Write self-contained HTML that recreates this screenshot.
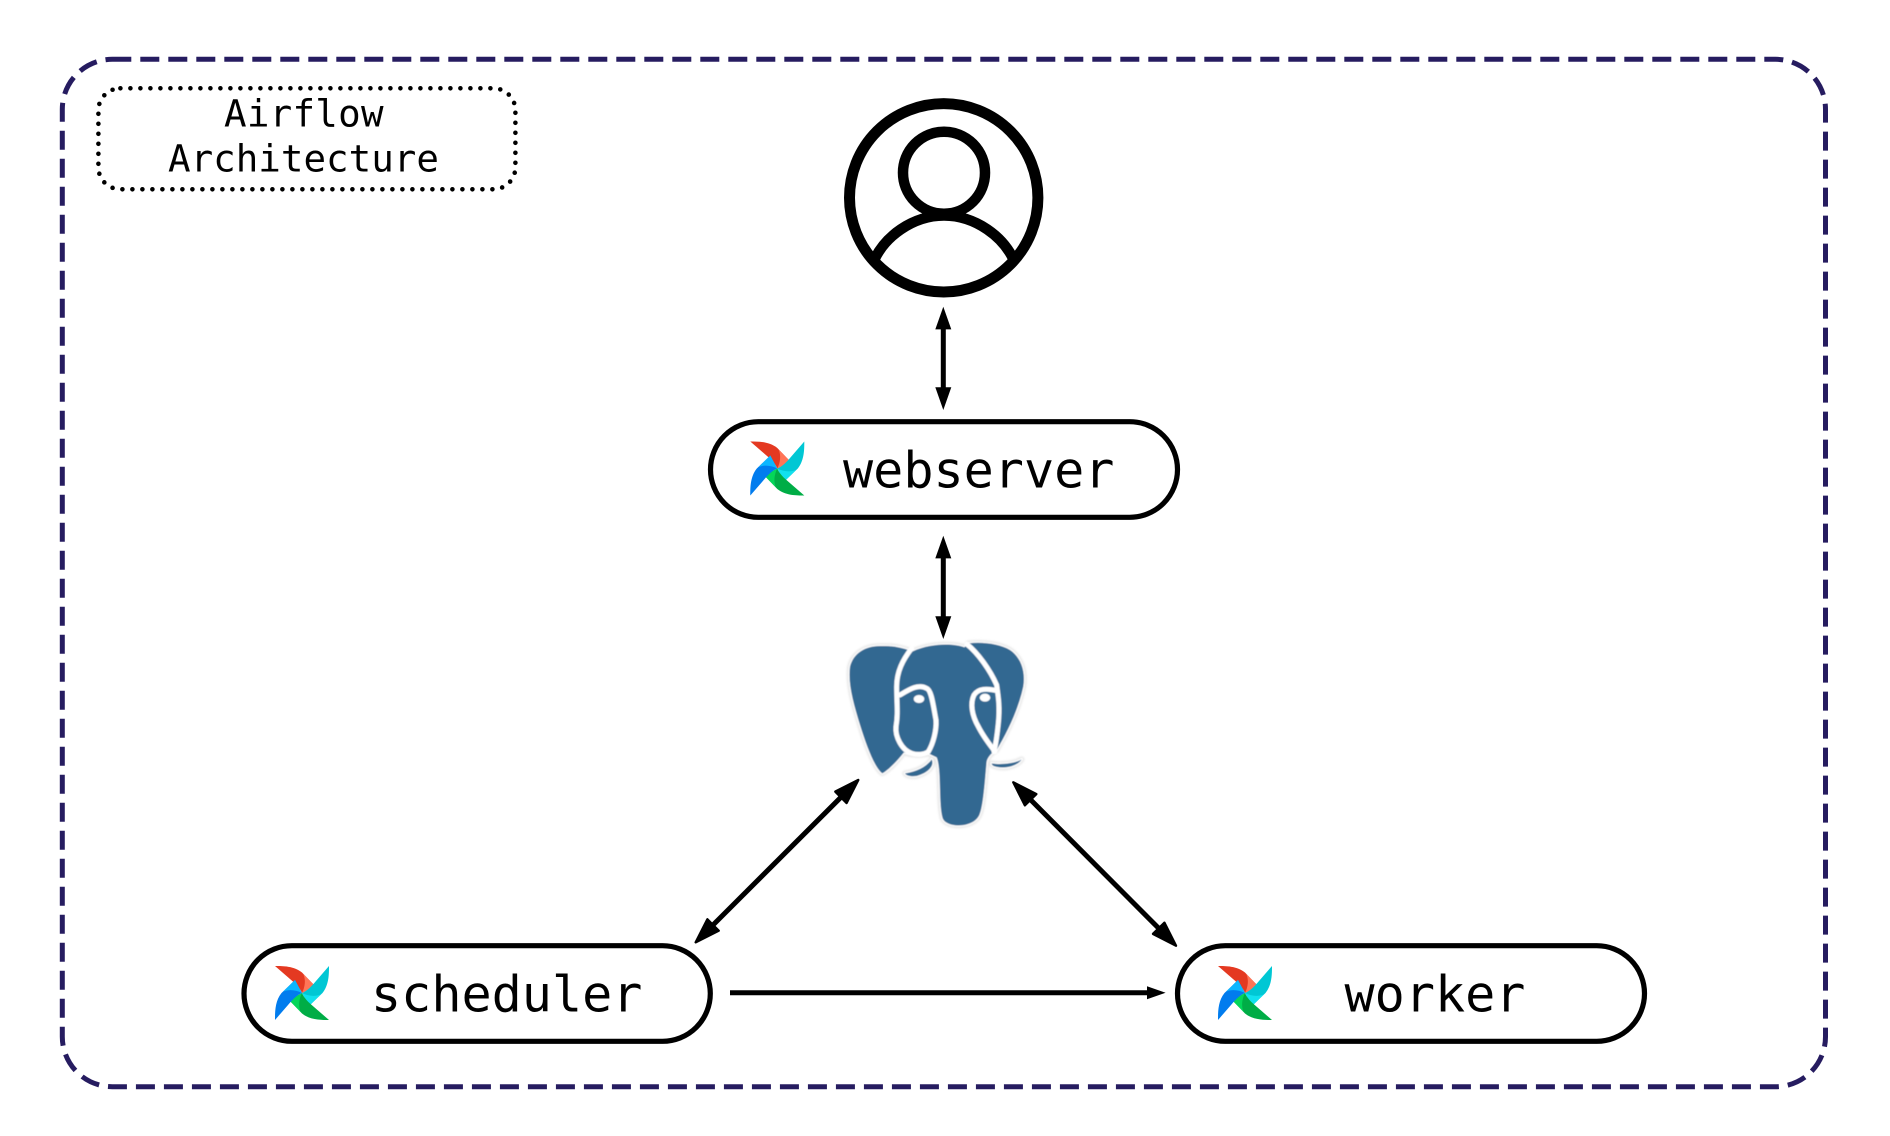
<!DOCTYPE html>
<html>
<head>
<meta charset="utf-8">
<title>Airflow Architecture</title>
<style>
html,body{margin:0;padding:0;background:#fff;width:1890px;height:1136px;overflow:hidden}
svg{display:block}
text{font-family:"DejaVu Sans Mono","Liberation Mono",monospace;fill:#000}
</style>
</head>
<body>
<svg xmlns="http://www.w3.org/2000/svg" width="1890" height="1136" viewBox="0 0 1890 1136">
<defs>
<clipPath id="ring"><circle cx="943.7" cy="197.8" r="94"/></clipPath>
<g id="pin">
  <path fill="#e43921" d="M-27 -27C-19 -27 -8 -27 0 -20.5L13 -7L0 0C-2 -5 -6 -9 -12 -14Z"/>
  <path fill="#ff7557" d="M1.3 -19L13 -7L0 0C3 -6 4 -13 1.3 -19Z"/>
  <g transform="rotate(90)">
    <path fill="#00c7d4" d="M-27 -27C-19 -27 -8 -27 0 -20.5L13 -7L0 0C-2 -5 -6 -9 -12 -14Z"/>
    <path fill="#11e1ee" d="M1.3 -19L13 -7L0 0C3 -6 4 -13 1.3 -19Z"/>
  </g>
  <g transform="rotate(180)">
    <path fill="#00ad46" d="M-27 -27C-19 -27 -8 -27 0 -20.5L13 -7L0 0C-2 -5 -6 -9 -12 -14Z"/>
    <path fill="#04d659" d="M1.3 -19L13 -7L0 0C3 -6 4 -13 1.3 -19Z"/>
  </g>
  <g transform="rotate(270)">
    <path fill="#017cee" d="M-27 -27C-19 -27 -8 -27 0 -20.5L13 -7L0 0C-2 -5 -6 -9 -12 -14Z"/>
    <path fill="#0cb6ff" d="M1.3 -19L13 -7L0 0C3 -6 4 -13 1.3 -19Z"/>
  </g>
</g>
<filter id="soft" x="-10%" y="-10%" width="120%" height="120%"><feGaussianBlur stdDeviation="3"/></filter>
<filter id="fine" x="-5%" y="-5%" width="110%" height="110%"><feGaussianBlur stdDeviation="1.2"/></filter>
<g id="sil">
  <path d="M480 378C435 378 400 400 390 440C383 490 400 550 420 615C440 680 465 745 487 760C505 750 530 725 552 697C570 705 610 708 625 700L650 712C665 750 655 850 668 895C680 925 760 925 778 885C790 860 795 780 800 725C803 712 812 700 830 690C860 640 895 570 910 500C918 450 900 410 870 390C840 372 790 365 745 370L733 382C710 372 640 366 578 394L565 390C530 378 510 378 480 378Z"/>
  <path d="M555 760C590 755 620 740 635 718C645 740 620 760 590 768C575 770 560 768 555 760Z"/>
  <path d="M815 730C845 735 885 730 905 718C895 735 865 745 840 742C825 740 815 738 815 730Z"/>
</g>
</defs>

<!-- outer dashed container -->
<path d="M112.3 59.3H1775.5A50 50 0 0 1 1825.5 109.3V1036.7A50 50 0 0 1 1775.5 1086.7H112.3A50 50 0 0 1 62.3 1036.7V109.3A50 50 0 0 1 112.3 59.3Z" fill="none" stroke="#261c60" stroke-width="5" stroke-dasharray="19 9"/>

<!-- dotted title box -->
<rect x="98.4" y="88.3" width="417" height="101" rx="22" ry="22" fill="none" stroke="#000" stroke-width="4.6" stroke-linecap="round" stroke-dasharray="0 10"/>
<text x="224" y="126.7" font-size="37.5" letter-spacing="0.25">Airflow</text>
<text x="168" y="171.7" font-size="37.5">Architecture</text>

<!-- user icon -->
<circle cx="943.7" cy="197.8" r="94.2" fill="none" stroke="#000" stroke-width="11"/>
<circle cx="944" cy="172.7" r="41" fill="none" stroke="#000" stroke-width="10.5"/>
<path clip-path="url(#ring)" d="M871 268C882 235 915 215.5 944 215.5C973 215.5 1006 235 1017 268" fill="none" stroke="#000" stroke-width="10.5"/>

<!-- vertical arrows -->
<g fill="#000" stroke="none">
  <rect x="940.8" y="328" width="5" height="61"/>
  <polygon points="943.3,306.7 951.3,329.4 935.3,329.4"/>
  <polygon points="943.3,410 951.3,387.3 935.3,387.3"/>
  <rect x="940.8" y="557" width="5" height="61"/>
  <polygon points="943.3,535.7 951.3,558.4 935.3,558.4"/>
  <polygon points="943.3,639 951.3,616.3 935.3,616.3"/>
</g>

<!-- pills -->
<g fill="#fff" stroke="#000" stroke-width="5.2">
  <rect x="710.5" y="421.7" width="467" height="95.6" rx="47.8" ry="47.8"/>
  <rect x="244" y="945.7" width="466.3" height="95.6" rx="47.8" ry="47.8"/>
  <rect x="1177.5" y="945.7" width="467" height="95.6" rx="47.8" ry="47.8"/>
</g>
<use href="#pin" x="777.3" y="468.5"/>
<use href="#pin" x="302" y="993"/>
<use href="#pin" x="1245" y="993"/>
<text x="843" y="487.3" font-size="50.1">webserver</text>
<text x="371" y="1011.7" font-size="50.1">scheduler</text>
<text x="1344.5" y="1011.7" font-size="50.1">worker</text>

<!-- diagonal and horizontal arrows -->
<g stroke="#000" stroke-width="5" fill="none">
  <line x1="842" y1="796.2" x2="712" y2="926"/>
  <line x1="1029.5" y1="798.6" x2="1159.8" y2="929.4"/>
  <line x1="730" y1="992.7" x2="1150" y2="992.7"/>
</g>
<g fill="#000" stroke="#000" stroke-width="2.4" stroke-linejoin="round">
  <polygon points="858.3,780 846.6,803 835.3,791.6"/>
  <polygon points="695.7,942.3 718.7,930.7 707.4,919.3"/>
  <polygon points="1013.3,782.3 1036.3,794.1 1024.9,805.3"/>
  <polygon points="1176,945.7 1164.4,922.7 1153,933.9"/>
</g>
<polygon points="1165.6,992.7 1147,986.2 1147,999.2" fill="#000"/>

<!-- PostgreSQL elephant -->
<g transform="translate(720 520) scale(0.33333)">
  <use href="#sil" fill="#e6e6e6" stroke="#e6e6e6" stroke-width="16" stroke-linejoin="round" filter="url(#soft)"/>
  <g filter="url(#fine)">
    <use href="#sil" fill="#fff" stroke="#fff" stroke-width="8" stroke-linejoin="round"/>
    <use href="#sil" fill="#336791"/>
    <g fill="none" stroke="#fff" stroke-width="15" stroke-linecap="round" stroke-linejoin="round">
      <path d="M575 385C548 420 530 455 530 500C530 550 535 580 528 620C525 650 545 690 575 700C590 705 610 705 625 695C640 670 650 630 648 600C640 560 635 510 620 505C595 490 565 510 540 525"/>
      <path d="M740 372C775 400 810 450 830 495C835 530 840 560 835 610C832 640 828 670 822 695"/>
      <path d="M830 512C800 505 775 505 762 525C750 550 755 585 775 620C790 650 810 675 825 695"/>
    </g>
    <ellipse cx="597" cy="537" rx="16" ry="12" fill="#fff"/>
    <ellipse cx="795" cy="533" rx="16" ry="12" fill="#fff"/>
  </g>
</g>
</svg>
</body>
</html>
